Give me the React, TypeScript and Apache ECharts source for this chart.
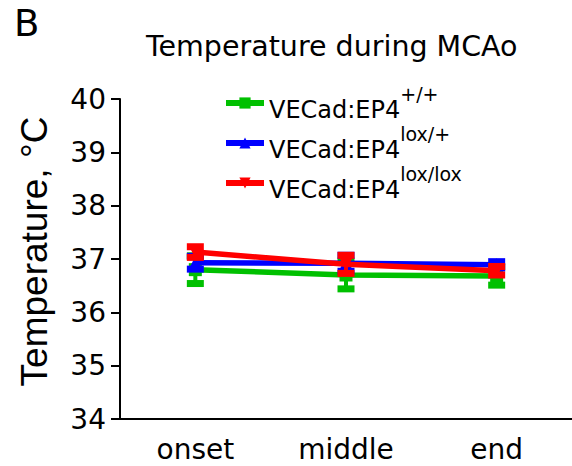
import React, { useEffect, useRef } from "react";
import * as echarts from "echarts";

const categories = ["onset", "middle", "end"];
const seriesNames = ["VECad:EP4 +/+", "VECad:EP4 lox/+", "VECad:EP4 lox/lox"];
const superscripts = ["+/+", "lox/+", "lox/lox"];
const greenMean = [36.8, 36.7, 36.68];
const blueMean = [36.93, 36.92, 36.89];
const redMean = [37.13, 36.9, 36.78];
const greenErr = [0.26, 0.26, 0.17];
const blueErr = [0.12, 0.15, 0.06];
const redErr = [0.1, 0.17, 0.08];
const colors = ["#00C000", "#0000FF", "#FF0000"];
const symbols = ["rect", "triangle", "triangle"];
const symbolRotates = [0, 0, 180];
const yTicks = [34, 35, 36, 37, 38, 39, 40];

const FONT = "DejaVu Sans";

export default function App() {
  const ref = useRef<HTMLDivElement>(null);
  useEffect(() => {
    if (!ref.current) return;
    const chart = echarts.init(ref.current, undefined, { renderer: "svg" });
    const means = [greenMean, blueMean, redMean];
    const errs = [greenErr, blueErr, redErr];

    const series: any[] = [];
    means.forEach((m, si) => {
      const errData = m.map((v, i) => [i, v - errs[si][i], v + errs[si][i]]);
      series.push({
        name: "err" + si,
        type: "custom",
        z: 2 + si * 2,
        data: errData,
        renderItem: (params: any, api: any) => {
          const x = api.value(0);
          const lo = api.coord([x, api.value(1)]);
          const hi = api.coord([x, api.value(2)]);
          const c = colors[si];
          const cw = 17;
          const ch = 7;
          return {
            type: "group",
            children: [
              {
                type: "line",
                shape: { x1: lo[0], y1: lo[1], x2: hi[0], y2: hi[1] },
                style: { stroke: c, lineWidth: 4 },
              },
              {
                type: "rect",
                shape: { x: lo[0] - cw / 2, y: lo[1] - ch / 2, width: cw, height: ch },
                style: { fill: c },
              },
              {
                type: "rect",
                shape: { x: hi[0] - cw / 2, y: hi[1] - ch / 2, width: cw, height: ch },
                style: { fill: c },
              },
            ],
          };
        },
      });
      series.push({
        name: seriesNames[si],
        type: "line",
        z: 3 + si * 2,
        data: m,
        symbol: symbols[si],
        symbolSize: 13,
        symbolRotate: symbolRotates[si],
        showAllSymbol: true,
        lineStyle: { color: colors[si], width: 5.5 },
        itemStyle: { color: colors[si] },
      });
    });

    chart.setOption({
      animation: false,
      title: {
        text: "Temperature during MCAo",
        left: 141,
        top: 27,
        textStyle: { fontFamily: FONT, fontSize: 28.5, fontWeight: "normal", color: "#000" },
      },
      graphic: [
        {
          type: "text",
          left: 14,
          top: 5,
          style: { text: "B", font: `37px '${FONT}'`, fill: "#000" },
        },
      ],
      legend: {
        orient: "vertical",
        left: 223,
        top: 84,
        padding: 0,
        itemGap: 2,
        itemWidth: 38,
        itemHeight: 14,
        lineStyle: { width: 6 },
        data: seriesNames,
        formatter: (name: string) => {
          const i = seriesNames.indexOf(name);
          return `{a|VECad:EP4}{s|${superscripts[i]}}`;
        },
        textStyle: {
          rich: {
            a: { fontFamily: FONT, fontSize: 24, color: "#000", lineHeight: 38, verticalAlign: "bottom" },
            s: { fontFamily: FONT, fontSize: 19, color: "#000", lineHeight: 12, verticalAlign: "top" },
          },
        },
      },
      grid: { left: 120, right: -31.5, top: 99, bottom: 47, containLabel: false },
      xAxis: {
        type: "category",
        data: categories,
        boundaryGap: true,
        axisLine: { lineStyle: { color: "#000", width: 2 } },
        axisTick: { alignWithLabel: true, length: 8, lineStyle: { color: "#000", width: 2 } },
        axisLabel: { fontFamily: FONT, fontSize: 28, color: "#000", margin: 16 },
        splitLine: { show: false },
      },
      yAxis: {
        type: "value",
        min: yTicks[0],
        max: yTicks[yTicks.length - 1],
        interval: 1,
        name: "Temperature, °C",
        nameLocation: "middle",
        nameGap: 67,
        nameRotate: 90,
        nameTextStyle: {
          fontFamily: "Liberation Sans",
          fontSize: 37,
          color: "#000",
          padding: [0, 0, 0, 15],
        },
        axisLine: { show: true, lineStyle: { color: "#000", width: 2 } },
        axisTick: { show: true, length: 9, lineStyle: { color: "#000", width: 2 } },
        axisLabel: { fontFamily: FONT, fontSize: 28, color: "#000", margin: 14 },
        splitLine: { show: false },
      },
      series,
    });
    return () => chart.dispose();
  }, []);
  return <div ref={ref} style={{ width: 572, height: 466, position: "absolute", left: 0, top: 0 }} />;
}
